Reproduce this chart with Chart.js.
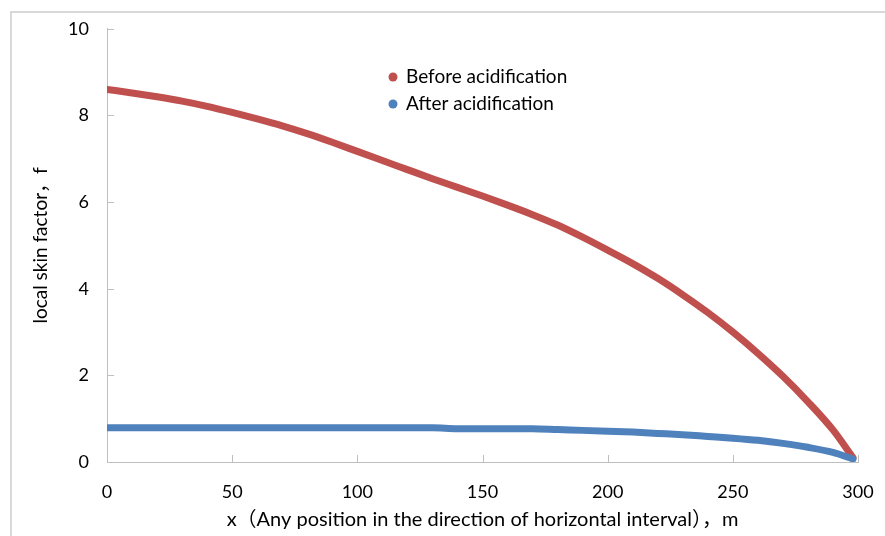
<!DOCTYPE html>
<html>
<head>
<meta charset="utf-8">
<script src="https://cdn.jsdelivr.net/npm/chart.js@4/dist/chart.umd.min.js"></script>
<style>
  html, body { margin: 0; padding: 0; background: #fff; }
  #wrap { width: 885px; height: 536px; }
</style>
</head>
<body>
<div id="wrap"><canvas id="skinChart" width="885" height="536"></canvas></div>
<script>
// x positions (m)
var xPos = [0, 10, 20, 30, 40, 50, 60, 70, 80, 90, 100, 110, 120, 130, 140, 150,
            160, 170, 180, 190, 200, 210, 220, 230, 240, 250, 260, 270, 280, 290, 298];
// local skin factor before acidification
var before = [8.60, 8.52, 8.43, 8.33, 8.21, 8.07, 7.92, 7.76, 7.58, 7.38, 7.17, 6.96, 6.75, 6.54, 6.34, 6.14,
              5.93, 5.71, 5.47, 5.19, 4.89, 4.58, 4.24, 3.86, 3.45, 3.00, 2.51, 1.98, 1.39, 0.74, 0.10];
// local skin factor after acidification
var after = [0.79, 0.79, 0.79, 0.79, 0.79, 0.79, 0.79, 0.79, 0.79, 0.79, 0.79, 0.79, 0.79, 0.79, 0.77, 0.77,
             0.77, 0.77, 0.75, 0.73, 0.71, 0.69, 0.66, 0.63, 0.59, 0.55, 0.50, 0.43, 0.34, 0.22, 0.07];
var xTicks = [0, 50, 100, 150, 200, 250, 300];
var yTicks = [0, 2, 4, 6, 8, 10];

function pts(ys) {
  return xPos.map(function (x, i) { return { x: x, y: ys[i] }; });
}

var tickFont = { family: 'Lato, "Open Sans", sans-serif', size: 18 };
var axisGray = '#bfbfbf';

// frame, inward tick marks and in-plot legend
var extras = {
  id: 'extras',
  beforeDraw: function (chart) {
    var ctx = chart.ctx;
    ctx.save();
    ctx.strokeStyle = '#d9d9d9';
    ctx.lineWidth = 2;
    ctx.beginPath();
    ctx.moveTo(11, 536);
    ctx.lineTo(11, 12);
    ctx.lineTo(885, 12);
    ctx.stroke();
    ctx.restore();
  },
  afterDraw: function (chart) {
    var ctx = chart.ctx, a = chart.chartArea;
    var xs = chart.scales.x, ys = chart.scales.y;
    ctx.save();
    ctx.strokeStyle = axisGray;
    ctx.lineWidth = 1;
    ctx.beginPath();
    xTicks.forEach(function (v) {
      var p = Math.round(xs.getPixelForValue(v)) + 0.5;
      ctx.moveTo(p, a.bottom); ctx.lineTo(p, a.bottom - 7);
    });
    yTicks.forEach(function (v) {
      var p = Math.round(ys.getPixelForValue(v)) + 0.5;
      ctx.moveTo(a.left, p); ctx.lineTo(a.left + 7, p);
    });
    ctx.stroke();

    // legend
    ctx.font = '19px Lato, "Open Sans", sans-serif';
    ctx.textBaseline = 'middle';
    chart.data.datasets.forEach(function (ds, i) {
      var ly = 77 + i * 27;
      ctx.fillStyle = ds.borderColor;
      ctx.beginPath();
      ctx.arc(393, ly, 4.5, 0, Math.PI * 2);
      ctx.fill();
      ctx.fillStyle = '#000';
      ctx.fillText(ds.label, 406, ly);
    });
    ctx.restore();
  }
};

new Chart(document.getElementById('skinChart'), {
  type: 'scatter',
  data: {
    datasets: [
      {
        label: 'Before acidification',
        data: pts(before),
        showLine: true,
        borderColor: '#C0504D',
        backgroundColor: '#C0504D',
        borderWidth: 7,
        borderCapStyle: 'round',
        borderJoinStyle: 'round',
        pointRadius: 0,
        cubicInterpolationMode: 'monotone',
        order: 1
      },
      {
        label: 'After acidification',
        data: pts(after),
        showLine: true,
        borderColor: '#4F81BD',
        backgroundColor: '#4F81BD',
        borderWidth: 7,
        borderCapStyle: 'round',
        borderJoinStyle: 'round',
        pointRadius: 0,
        cubicInterpolationMode: 'monotone',
        order: 0
      }
    ]
  },
  options: {
    responsive: false,
    animation: false,
    layout: { padding: { top: 27, right: 27, bottom: 0, left: 0 } },
    plugins: { legend: { display: false }, tooltip: { enabled: false } },
    scales: {
      x: {
        type: 'linear',
        min: 0, max: 300,
        afterFit: function (s) { s.height = 74; s.paddingLeft = 0; s.paddingRight = 0; },
        afterBuildTicks: function (s) { s.ticks = xTicks.map(function (v) { return { value: v }; }); },
        grid: { drawOnChartArea: false, drawTicks: false },
        border: { color: axisGray, width: 1 },
        ticks: { color: '#000', font: tickFont, padding: 19, maxRotation: 0 },
        title: {
          display: true,
          text: 'x（Any position in the direction of horizontal interval），m',
          color: '#000',
          font: { family: 'Lato, "Noto Sans CJK SC", sans-serif', size: 20 },
          padding: { top: 0, bottom: 4 }
        }
      },
      y: {
        min: 0, max: 10,
        afterFit: function (s) { s.width = 107; },
        afterBuildTicks: function (s) { s.ticks = yTicks.map(function (v) { return { value: v }; }); },
        grid: { drawOnChartArea: false, drawTicks: false },
        border: { color: axisGray, width: 1 },
        ticks: { color: '#000', font: tickFont, padding: 18 },
        title: {
          display: true,
          text: 'local skin factor，f',
          color: '#000',
          font: { family: 'Lato, "Noto Sans CJK SC", sans-serif', size: 19 },
          padding: { top: 29, bottom: 0 }
        }
      }
    }
  },
  plugins: [extras]
});
</script>
</body>
</html>
